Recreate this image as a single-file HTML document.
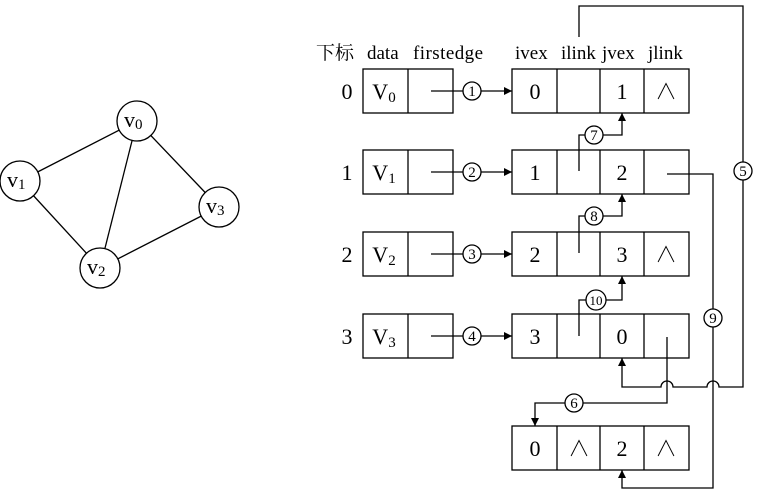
<!DOCTYPE html>
<html><head><meta charset="utf-8"><style>body{margin:0;background:#fff}svg{display:block}</style></head>
<body>
<svg width="758" height="493" viewBox="0 0 758 493" xmlns="http://www.w3.org/2000/svg" font-family="'Liberation Serif','Noto Serif CJK SC',serif" fill="none" stroke="#000" stroke-width="1.3">
<defs><marker id="a" viewBox="0 0 10 10" refX="10" refY="5" markerWidth="8" markerHeight="8" orient="auto" markerUnits="userSpaceOnUse"><path d="M0,0L10,5L0,10z" fill="#000" stroke="none"/></marker></defs>
<g>
<line x1="137" y1="121" x2="20" y2="181"/><line x1="137" y1="121" x2="100" y2="268"/><line x1="137" y1="121" x2="219" y2="207"/><line x1="20" y1="181" x2="100" y2="268"/><line x1="100" y1="268" x2="219" y2="207"/>
<circle cx="137" cy="121" r="20" fill="#fff"/><circle cx="20" cy="181" r="20" fill="#fff"/><circle cx="100" cy="268" r="20" fill="#fff"/><circle cx="219" cy="207" r="20" fill="#fff"/>
</g>
<g fill="#000" stroke="none" font-size="22">
<text x="124" y="127">v<tspan font-size="15" dy="2">0</tspan></text>
<text x="7" y="187">v<tspan font-size="15" dy="2">1</tspan></text>
<text x="87" y="274">v<tspan font-size="15" dy="2">2</tspan></text>
<text x="206" y="213">v<tspan font-size="15" dy="2">3</tspan></text>
</g>
<g fill="#000" stroke="none" font-size="19">
<text x="316" y="59">下标</text><text x="367" y="59">data</text><text x="413" y="59" textLength="70">firstedge</text>
<text x="515" y="59">ivex</text><text x="561" y="59">ilink</text><text x="602" y="59">jvex</text><text x="648" y="59">jlink</text>
</g>
<g>
<rect x="363" y="69" width="90" height="44"/><line x1="408" y1="69" x2="408" y2="113"/>
<rect x="363" y="150" width="90" height="44"/><line x1="408" y1="150" x2="408" y2="194"/>
<rect x="363" y="232" width="90" height="44"/><line x1="408" y1="232" x2="408" y2="276"/>
<rect x="363" y="314" width="90" height="44"/><line x1="408" y1="314" x2="408" y2="358"/>
<g id="r"><rect x="512" y="69" width="177" height="44"/><line x1="557" y1="69" x2="557" y2="113"/><line x1="600" y1="69" x2="600" y2="113"/><line x1="644" y1="69" x2="644" y2="113"/></g>
<use href="#r" y="81"/><use href="#r" y="163"/><use href="#r" y="245"/><use href="#r" y="357"/>
</g>
<g fill="#000" stroke="none" font-size="22" text-anchor="middle">
<text x="347" y="99">0</text><text x="347" y="180">1</text><text x="347" y="262">2</text><text x="347" y="344">3</text>
<text x="384" y="99">V<tspan font-size="15" dy="3">0</tspan></text>
<text x="384" y="180">V<tspan font-size="15" dy="3">1</tspan></text>
<text x="384" y="262">V<tspan font-size="15" dy="3">2</tspan></text>
<text x="384" y="344">V<tspan font-size="15" dy="3">3</tspan></text>
<text x="535" y="99">0</text><text x="622" y="99">1</text><text x="666" y="99">∧</text>
<text x="535" y="180">1</text><text x="622" y="180">2</text>
<text x="535" y="262">2</text><text x="622" y="262">3</text><text x="666" y="262">∧</text>
<text x="535" y="344">3</text><text x="622" y="344">0</text>
<text x="535" y="456">0</text><text x="579" y="456">∧</text><text x="622" y="456">2</text><text x="666" y="456">∧</text>
</g>
<g marker-end="url(#a)">
<line x1="431" y1="91" x2="512" y2="91"/><line x1="431" y1="172" x2="512" y2="172"/><line x1="431" y1="254" x2="512" y2="254"/><line x1="431" y1="336" x2="512" y2="336"/>
<polyline points="579,171 579,135 622,135 622,113"/>
<polyline points="579,253 579,216 622,216 622,194"/>
<polyline points="579,336 579,300 622,300 622,276"/>
<polyline points="667,174 713,174 713,488 622,488 622,470"/>
<polyline points="667,337 667,403 535,403 535,426"/>
<path d="M579,37 L579,6 L743,6 L743,387 L719,387 A6,6 0 0 0 707,387 L673,387 A6,6 0 0 0 661,387 L622,387 L622,358"/>
</g>
<g fill="#fff">
<circle cx="472" cy="91" r="9"/><circle cx="472" cy="172" r="9"/><circle cx="472" cy="254" r="9"/><circle cx="472" cy="336" r="9"/>
<circle cx="594" cy="135" r="9"/><circle cx="594" cy="216" r="9"/><circle cx="596" cy="300" r="10"/>
<circle cx="743" cy="171" r="9"/><circle cx="574" cy="403" r="9"/><circle cx="713" cy="318" r="9"/>
</g>
<g fill="#000" stroke="none" font-size="15" text-anchor="middle">
<text x="472" y="96">1</text><text x="472" y="177">2</text><text x="472" y="259">3</text><text x="472" y="341">4</text>
<text x="594" y="140">7</text><text x="594" y="221">8</text><text x="596" y="305" font-size="13">10</text>
<text x="743" y="176">5</text><text x="574" y="408">6</text><text x="713" y="323">9</text>
</g>
</svg>
</body></html>
